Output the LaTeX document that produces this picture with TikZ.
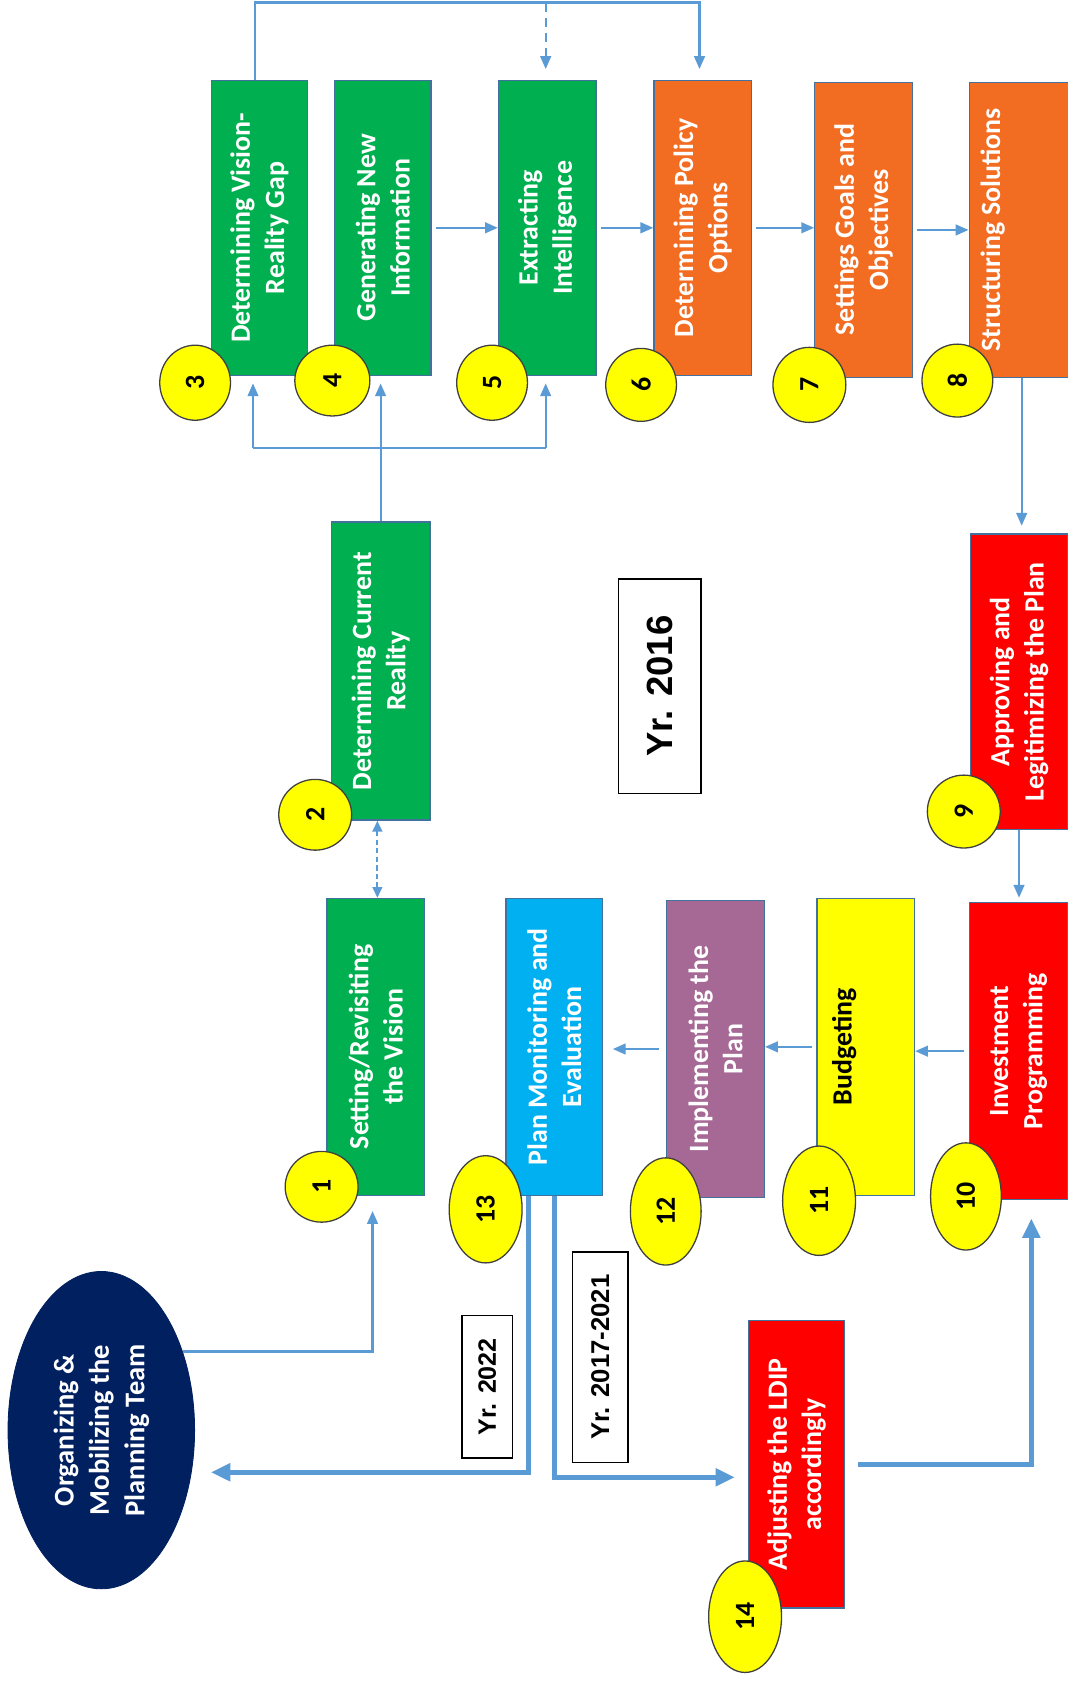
\documentclass[tikz,border=0pt]{standalone}
\usepackage{fontspec}
\setmainfont{Carlito}
\newfontfamily\yrfont{Liberation Sans}
\usetikzlibrary{shapes.geometric,arrows.meta,calc}
\definecolor{cgreen}{RGB}{0,176,80}
\definecolor{corange}{RGB}{242,108,33}
\definecolor{cred}{RGB}{255,0,0}
\definecolor{cyellow}{RGB}{255,255,0}
\definecolor{cblue}{RGB}{0,176,240}
\definecolor{cpurple}{RGB}{166,104,148}
\definecolor{cnavy}{RGB}{0,32,96}
\definecolor{arrowblue}{RGB}{91,155,213}
\definecolor{boxedge}{RGB}{65,113,156}
\begin{document}
\begin{tikzpicture}[x=0.5pt,y=-0.5pt,
  box/.style={rectangle, draw=boxedge, line width=0.6pt, rotate=90, text=white,
    font=\bfseries\fontsize{13}{16}\selectfont, align=center, inner sep=0pt},
  num/.style={ellipse, draw=black!75, fill=cyellow, line width=0.6pt, rotate=90,
    font=\bfseries\fontsize{13}{15}\selectfont, inner sep=0pt},
  yrbox/.style={rectangle, draw=black, fill=white, line width=0.7pt, rotate=90, inner sep=0pt},
  conn/.style={draw=arrowblue, line width=1pt},
  arr/.style={conn, -{Triangle[length=6pt,width=5pt]}},
  tarr/.style={draw=arrowblue, line width=2.2pt, -{Triangle[length=9pt,width=8pt]}}
]
\useasboundingbox (0,0) rectangle (996,1568);
\fill[white] (0,0) rectangle (996,1568);

% boxes
\node[box, fill=cgreen, minimum width=137.5pt, minimum height=45pt] (b3) at (242,212.5) {Determining Vision-\\Reality Gap};
\node[box, fill=cgreen, minimum width=137.5pt, minimum height=45pt] (b4) at (357,212.5) {Generating New\\Information};
\node[box, fill=cgreen, minimum width=137.5pt, minimum height=45.5pt] (b5) at (510.5,212.5) {Extracting\\Intelligence};
\node[box, fill=corange, minimum width=137.5pt, minimum height=45.5pt] (b6) at (655.5,212.5) {Determining Policy\\Options};
\node[box, fill=corange, minimum width=137.5pt, minimum height=45.5pt] (b7) at (805.5,214.5) {Settings Goals and\\Objectives};
\node[box, fill=corange, minimum width=137.5pt, minimum height=52pt] (b8) at (956,214.5) {\raisebox{15pt}[\height][\depth]{Structuring Solutions}};
\node[box, fill=cgreen, minimum width=139pt, minimum height=46pt] (b2) at (355,626) {Determining Current\\Reality};
\node[box, fill=cred, minimum width=138pt, minimum height=45.5pt] (b9) at (950.5,636) {Approving and\\Legitimizing the Plan};
\node[box, fill=cgreen, minimum width=138.5pt, minimum height=45.5pt] (b1) at (350.5,976.5) {Setting/Revisiting\\the Vision};
\node[box, fill=cblue, minimum width=138.5pt, minimum height=45pt] (b13) at (517,976.5) {Plan Monitoring and\\Evaluation};
\node[box, fill=cpurple, minimum width=138.5pt, minimum height=45.5pt] (b12) at (667.5,978.5) {Implementing the\\Plan};
\node[box, fill=cyellow, text=black, minimum width=138.5pt, minimum height=45.5pt] (b11) at (807.5,976.5) {\raisebox{10pt}[\height][\depth]{Budgeting}};
\node[box, fill=cred, minimum width=138.5pt, minimum height=46pt] (b10) at (950,980.5) {Investment\\Programming};
\node[box, fill=cred, minimum width=134pt, minimum height=45pt] (b14) at (743,1366) {Adjusting the LDIP\\accordingly};

% ellipse
\node[ellipse, fill=cnavy, draw=cnavy, rotate=90, minimum width=148pt, minimum height=87pt, inner sep=0pt,
  text=white, align=center, font=\bfseries\fontsize{13.3}{16.5}\selectfont] (org) at (94.5,1334) {Organizing \&\\Mobilizing the\\Planning Team};

% year boxes
\node[yrbox, minimum width=100pt, minimum height=38.5pt, font=\yrfont\bfseries\fontsize{17}{20}\selectfont] (y16) at (615.5,640) {Yr. 2016\hspace{16pt}};
\node[yrbox, minimum width=66.5pt, minimum height=23.5pt, font=\yrfont\bfseries\fontsize{11.7}{14}\selectfont] (y22) at (454.5,1293.5) {Yr. 2022};
\node[yrbox, minimum width=98pt, minimum height=26pt, font=\yrfont\bfseries\fontsize{12}{14}\selectfont] (y17) at (560,1266) {Yr. 2017-2021};

% numbered circles
\node[num, minimum width=35pt, minimum height=33pt] (n3) at (182,357) {3};
\node[num, minimum width=33pt, minimum height=35pt] (n4) at (310,355) {4};
\node[num, minimum width=35pt, minimum height=33pt] (n5) at (459,357) {5};
\node[num, minimum width=34pt, minimum height=33pt] (n6) at (598,359) {6};
\node[num, minimum width=35pt, minimum height=34pt] (n7) at (755,359) {7};
\node[num, minimum width=34pt, minimum height=33pt] (n8) at (893,355) {8};
\node[num, minimum width=33pt, minimum height=34pt] (n2) at (294,760) {2};
\node[num, minimum width=34pt, minimum height=34pt] (n9) at (899,757) {9};
\node[num, minimum width=33pt, minimum height=34pt] (n1) at (300,1107) {1};
\node[num, minimum width=50pt, minimum height=34pt] (n13) at (453,1128) {13};
\node[num, minimum width=50pt, minimum height=33pt] (n12) at (621,1130) {12};
\node[num, minimum width=51pt, minimum height=34pt] (n11) at (764,1120) {11};
\node[num, minimum width=50pt, minimum height=33pt] (n10) at (901,1116) {10};
\node[num, minimum width=52pt, minimum height=34pt] (n14) at (695,1508) {14};

% helper coordinates
\coordinate (topy) at (0,3);
\coordinate (jy) at (0,418);
\coordinate (jt) at (b5.east |- topy);

% top feedback
\draw[arr, shorten >=5pt] ($(b3.east)+(-4,0)$) |- ($(b6.east)+(-3,-72)$) -- ($(b6.east)+(-3,0)$);
\draw[arr, dash pattern=on 4pt off 3pt, shorten >=5pt] ($(jt)+(-1.5,0)$) -- ($(b5.east)+(-1.5,0)$);

% from current reality up
\draw[arr, shorten >=3.5pt] (b2.east) -- (b2.east |- b4.west);
\draw[conn] ($(b3.west |- jy)+(-6,0)$) -- ($(b5.west |- jy)+(-1.5,0)$);
\draw[arr, shorten >=3.5pt] ($(b3.west |- jy)+(-6,0)$) -- ($(b3.west)+(-6,0)$);
\draw[arr, shorten >=3.5pt] ($(b5.west |- jy)+(-1.5,0)$) -- ($(b5.west)+(-1.5,0)$);

% top row
\draw[arr, shorten <=2pt] (b4.south) -- (b5.north);
\draw[arr, shorten <=2pt] (b5.south) -- (b6.north);
\draw[arr, shorten <=2pt] (b6.south) -- (b6.south -| b7.north);
\draw[arr, shorten <=2pt] (b7.south) -- (b7.south -| b8.north);

% right column
\draw[arr, shorten >=3.5pt] ($(b8.west)+(-3,0)$) -- ($(b8.west |- b9.east)+(-3,0)$);
\draw[arr, shorten >=2pt] (b9.west) -- (b9.west |- b10.east);

% vision <-> current reality
\draw[conn, dash pattern=on 2.5pt off 1.5pt, {Triangle[length=5pt,width=4.5pt]}-{Triangle[length=5pt,width=4.5pt]}] ($(b2.west)+(-3,0)$) -- ($(b1.east)+(1.5,0)$);

% bottom row
\draw[arr, shorten <=2pt] (b10.north) -- (b10.north -| b11.south);
\draw[arr, shorten <=2pt] (b11.north) -- (b11.north -| b12.south);
\draw[arr, shorten <=3.5pt, shorten >=4.5pt] (b12.north) -- (b12.north -| b13.south);

% organizing -> vision
\draw[arr, shorten >=7pt] (org.-46) -| ($(b1.west)+(-3,0)$);

% thick loops
\draw[tarr, shorten >=9pt] ($(b13.west)+(-24,0)$) |- (org.-115);
\draw[tarr, shorten >=6pt] (b13.west) |- ($(b14.north)+(0,12)$);
\draw[tarr, shorten <=6pt, shorten >=8.5pt] (b14.south) -| ($(b10.west)+(12,0)$);
\end{tikzpicture}
\end{document}
